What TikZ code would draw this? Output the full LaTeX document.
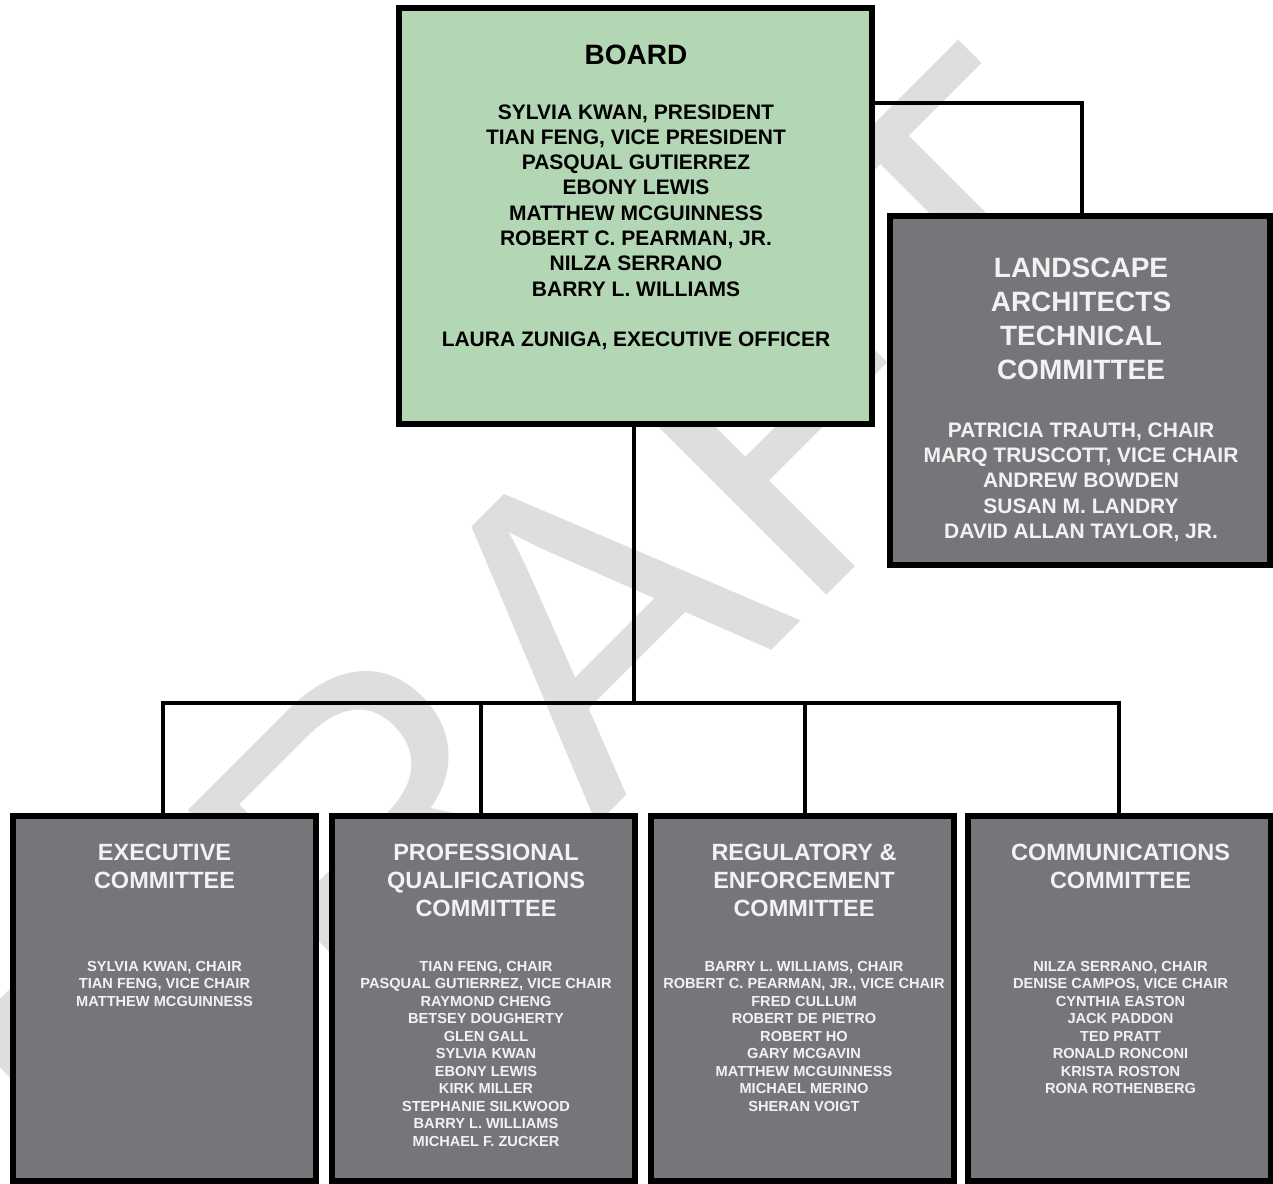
\documentclass[tikz,border=0pt]{standalone}
\usepackage{fontspec}
\setmainfont{Liberation Sans}
\usetikzlibrary{calc}
\definecolor{boardgreen}{RGB}{179,214,181}
\definecolor{comgray}{RGB}{117,118,122}
\definecolor{wmgray}{RGB}{222,222,222}
\definecolor{lighttext}{RGB}{242,242,242}
\begin{document}
\begin{tikzpicture}[x=1pt,y=-1pt,
  box/.style={draw=black, line width=6pt, inner sep=0pt, outer sep=0pt, rectangle},
  boardbox/.style={box, fill=boardgreen, minimum width=473pt, minimum height=416pt},
  combox/.style={box, fill=comgray, minimum width=303pt, minimum height=365pt},
  latcbox/.style={box, fill=comgray, minimum width=380pt, minimum height=349pt},
  conn/.style={draw=black, line width=3.5pt, line join=miter},
  btitle/.style={anchor=north, inner sep=0pt, align=center, font=\fontsize{28}{34}\selectfont\bfseries},
  bnames/.style={anchor=north, inner sep=0pt, align=center, font=\fontsize{21}{25.3}\selectfont\bfseries},
  ctitle/.style={anchor=north, inner sep=0pt, align=center, text=lighttext, font=\fontsize{23.5}{28}\selectfont\bfseries},
  cnames/.style={anchor=north, inner sep=0pt, align=center, text=lighttext, font=\fontsize{14.6}{17.5}\selectfont\bfseries},
  wm/.style={text=wmgray, inner sep=0pt, outer sep=0pt, font=\fontsize{435}{435}\selectfont}
]
\useasboundingbox (0,0) rectangle (1273,1183);
\clip (0,0) rectangle (1273,1183);
\fill[white] (0,0) rectangle (1273,1183);

% watermark
\node[wm, rotate=45, anchor=base west] (draft) at (152,1270) {DRAFT};

% boxes
\node[boardbox] (board) at (635.5,216) {};
\node[latcbox] (latc) at (1080,390.5) {};
\node[combox] (exec) at (164.5,998.5) {};
\node[combox] (prof) at (483,998.5) {};
\node[combox] (reg) at (802.5,998.5) {};
\node[combox] (comm) at (1119.5,998.5) {};

% connectors
\coordinate (bus) at (634,703);
\draw[conn] ($(board.north east)+(0,95)$) -| ([xshift=2pt]latc.north);
\draw[conn] ([xshift=-1.5pt]board.south) -- ([xshift=-1.5pt]board.south |- bus);
\draw[conn] ([xshift=-1.5pt]exec.north) |- (bus) -| ([xshift=-0.5pt]comm.north);
\draw[conn] ([xshift=-2pt]prof.north) -- ([xshift=-2pt]prof.north |- bus);
\draw[conn] ([xshift=2.5pt]reg.north) -- ([xshift=2.5pt]reg.north |- bus);

% board text
\node[btitle] (boardt) at (636,45) {BOARD};
\node[bnames] (boardn) at (636,104.2) {SYLVIA KWAN, PRESIDENT\\TIAN FENG, VICE PRESIDENT\\PASQUAL GUTIERREZ\\EBONY LEWIS\\MATTHEW MCGUINNESS\\ROBERT C. PEARMAN, JR.\\NILZA SERRANO\\BARRY L. WILLIAMS\\[25.3pt]LAURA ZUNIGA, EXECUTIVE OFFICER};

% LATC text
\node[ctitle, font=\fontsize{28}{34}\selectfont\bfseries] (latct) at (1081,258) {LANDSCAPE\\ARCHITECTS\\TECHNICAL\\COMMITTEE};
\node[cnames, font=\fontsize{21}{25.3}\selectfont\bfseries] (latcn) at (1081,422.5) {PATRICIA TRAUTH, CHAIR\\MARQ TRUSCOTT, VICE CHAIR\\ANDREW BOWDEN\\SUSAN M. LANDRY\\DAVID ALLAN TAYLOR, JR.};

% committees
\node[ctitle] (exect) at (164.5,843.6) {EXECUTIVE\\COMMITTEE};
\node[cnames] (execn) at (164.5,960.8) {SYLVIA KWAN, CHAIR\\TIAN FENG, VICE CHAIR\\MATTHEW MCGUINNESS};

\node[ctitle] (proft) at (486,843.6) {PROFESSIONAL\\QUALIFICATIONS\\COMMITTEE};
\node[cnames] (profn) at (486,960.8) {TIAN FENG, CHAIR\\PASQUAL GUTIERREZ, VICE CHAIR\\RAYMOND CHENG\\BETSEY DOUGHERTY\\GLEN GALL\\SYLVIA KWAN\\EBONY LEWIS\\KIRK MILLER\\STEPHANIE SILKWOOD\\BARRY L. WILLIAMS\\MICHAEL F. ZUCKER};

\node[ctitle] (regt) at (804,843.6) {REGULATORY \&\\ENFORCEMENT\\COMMITTEE};
\node[cnames] (regn) at (804,960.8) {BARRY L. WILLIAMS, CHAIR\\ROBERT C. PEARMAN, JR., VICE CHAIR\\FRED CULLUM\\ROBERT DE PIETRO\\ROBERT HO\\GARY MCGAVIN\\MATTHEW MCGUINNESS\\MICHAEL MERINO\\SHERAN VOIGT};

\node[ctitle] (commt) at (1120.5,843.6) {COMMUNICATIONS\\COMMITTEE};
\node[cnames] (commn) at (1120.5,960.8) {NILZA SERRANO, CHAIR\\DENISE CAMPOS, VICE CHAIR\\CYNTHIA EASTON\\JACK PADDON\\TED PRATT\\RONALD RONCONI\\KRISTA ROSTON\\RONA ROTHENBERG};
\end{tikzpicture}
\end{document}
